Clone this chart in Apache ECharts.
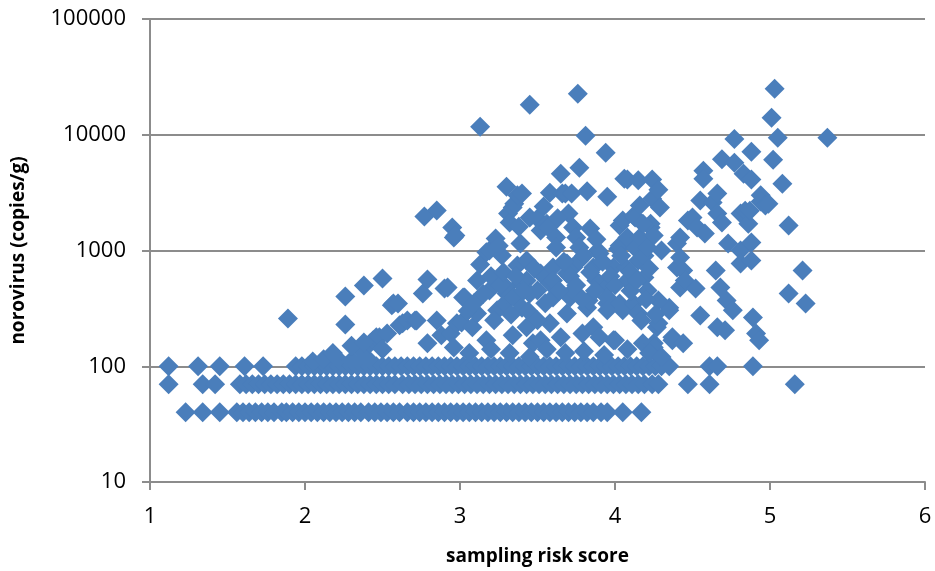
<!DOCTYPE html>
<html>
<head>
    <meta charset="utf-8">
    <title>norovirus vs sampling risk score</title>
    <script src="https://cdn.jsdelivr.net/npm/echarts@6/dist/echarts.min.js"></script>
    <style>
        html, body { margin: 0; padding: 0; background: #fff; }
        #chart { width: 935px; height: 571px; }
    </style>
</head>
<body>
<div id="chart"></div>
<script>
    // 坐标轴刻度
    var xTicks = [1, 2, 3, 4, 5, 6];
    var yTicks = [10, 100, 1000, 10000, 100000];

    // 底部三行（检测下限附近的值）
    var row40X = [1.23, 1.34, 1.45, 1.56, 1.60, 1.64, 1.68, 1.72, 1.76, 1.80, 1.85, 1.88, 1.92, 1.96,
        2.00, 2.04, 2.08, 2.12, 2.16, 2.20, 2.24, 2.28, 2.32, 2.36, 2.41, 2.45, 2.49, 2.53, 2.57,
        2.61, 2.66, 2.70, 2.74, 2.78, 2.82, 2.86, 2.90, 2.94, 2.98, 3.02, 3.06, 3.10, 3.14, 3.18,
        3.22, 3.26, 3.30, 3.34, 3.38, 3.42, 3.46, 3.50, 3.54, 3.58, 3.62, 3.66, 3.70, 3.74, 3.78,
        3.82, 3.86, 3.91, 3.95, 4.05, 4.17];
    var row70X = [1.12, 1.34, 1.42, 1.58, 1.62, 1.66, 1.70, 1.74, 1.78, 1.82, 1.86, 1.90, 1.94, 1.98,
        2.02, 2.06, 2.10, 2.14, 2.18, 2.22, 2.26, 2.30, 2.34, 2.38, 2.42, 2.46, 2.50, 2.54, 2.58,
        2.63, 2.67, 2.71, 2.75, 2.79, 2.83, 2.87, 2.91, 2.95, 2.99, 3.03, 3.07, 3.11, 3.15, 3.19,
        3.23, 3.27, 3.31, 3.35, 3.39, 3.43, 3.47, 3.51, 3.55, 3.59, 3.63, 3.67, 3.71, 3.75, 3.79,
        3.83, 3.87, 3.91, 3.95, 3.99, 4.03, 4.07, 4.11, 4.15, 4.19, 4.24, 4.28, 4.47, 4.61, 5.16];
    var row100X = [1.12, 1.31, 1.45, 1.61, 1.73, 1.94, 1.98, 2.02, 2.06, 2.10, 2.14, 2.18, 2.22, 2.26,
        2.30, 2.34, 2.38, 2.42, 2.46, 2.50, 2.54, 2.58, 2.62, 2.66, 2.70, 2.74, 2.78, 2.82, 2.86,
        2.90, 2.94, 2.98, 3.02, 3.06, 3.10, 3.14, 3.18, 3.22, 3.26, 3.30, 3.34, 3.38, 3.42, 3.46,
        3.50, 3.54, 3.58, 3.62, 3.66, 3.70, 3.74, 3.78, 3.82, 3.86, 3.90, 3.94, 3.98, 4.02, 4.06,
        4.10, 4.14, 4.18, 4.22, 4.26, 4.30, 4.35, 4.61, 4.66, 4.89];

    // 其余散点
    var scatterX = [1.89, 2.05, 2.12, 2.18, 2.20, 2.26, 2.26, 2.30, 2.35, 2.36, 2.38, 2.40, 2.42, 2.44,
        2.46, 2.48, 2.50, 2.53, 2.56, 2.57, 2.60, 2.61, 2.63, 2.66, 2.71, 2.72, 2.76, 2.77, 2.79,
        2.79, 2.85, 2.85, 2.88, 2.90, 2.92, 2.94, 2.95, 2.96, 2.96, 2.97, 2.98, 3.01, 3.02, 3.03,
        3.08, 3.11, 3.11, 3.13, 3.13, 3.17, 3.17, 3.19, 3.19, 3.23, 3.24, 3.27, 3.29, 3.30, 3.30,
        3.30, 3.31, 3.32, 3.34, 3.34, 3.35, 3.35, 3.37, 3.37, 3.39, 3.39, 3.40, 3.40, 3.43, 3.43,
        3.43, 3.45, 3.45, 3.47, 3.50, 3.50, 3.52, 3.52, 3.52, 3.56, 3.57, 3.58, 3.58, 3.58, 3.60,
        3.60, 3.62, 3.62, 3.65, 3.65, 3.66, 3.68, 3.69, 3.69, 3.69, 3.70, 3.71, 3.72, 3.73, 3.73,
        3.73, 3.75, 3.76, 3.77, 3.77, 3.77, 3.79, 3.81, 3.82, 3.82, 3.83, 3.84, 3.86, 3.86, 3.88,
        3.89, 3.90, 3.90, 3.94, 3.95, 3.95, 3.95, 3.95, 3.95, 3.99, 3.99, 4.00, 4.02, 4.03, 4.03,
        4.03, 4.05, 4.05, 4.06, 4.07, 4.08, 4.08, 4.08, 4.12, 4.12, 4.13, 4.13, 4.15, 4.15, 4.15,
        4.16, 4.16, 4.17, 4.18, 4.19, 4.19, 4.21, 4.21, 4.23, 4.23, 4.24, 4.24, 4.25, 4.25, 4.25,
        4.27, 4.28, 4.28, 4.28, 4.29, 4.30, 4.35, 4.35, 4.37, 4.37, 4.40, 4.40, 4.42, 4.42, 4.42,
        4.44, 4.44, 4.45, 4.47, 4.50, 4.52, 4.53, 4.55, 4.55, 4.57, 4.57, 4.58, 4.63, 4.65, 4.66,
        4.66, 4.66, 4.68, 4.69, 4.69, 4.71, 4.72, 4.73, 4.76, 4.77, 4.77, 4.81, 4.81, 4.81, 4.83,
        4.84, 4.86, 4.87, 4.88, 4.88, 4.88, 4.88, 4.89, 4.91, 4.93, 4.94, 4.94, 4.97, 4.99, 5.01,
        5.02, 5.03, 5.05, 5.08, 5.12, 5.12, 5.21, 5.23, 5.37, 3.45];
    var scatterY = [259, 110, 115, 130, 120, 401, 230, 112, 143, 137, 499, 118, 158, 168,
        178, 178, 574, 192, 336, 349, 349, 226, 235, 249, 249, 249, 426, 1963, 562,
        158, 2213, 249, 185, 470, 480, 192, 1578, 1295, 145, 1347, 235, 239, 393, 393,
        217, 551, 286, 11720, 757, 168, 964, 1000, 452, 1270, 304, 905, 349, 3560, 426,
        480, 2084, 1743, 2350, 185, 2540, 393, 742, 3000, 1150, 520, 3100, 320, 820, 551,
        217, 1925, 426, 158, 1890, 452, 1487, 634, 168, 1700, 1578, 3150, 520, 235, 393,
        713, 1295, 1060, 4610, 178, 3100, 3100, 634, 773, 286, 2084, 393, 3100, 1578, 452,
        713, 1295, 22560, 5195, 820, 1060, 192, 9800, 3250, 320, 370, 1550, 217, 713, 551,
        1000, 943, 178, 6990, 2920, 480, 349, 393, 304, 713, 168, 168, 1030, 1643, 349,
        1100, 1815, 304, 4175, 713, 4100, 1295, 551, 2000, 349, 1925, 1050, 4050, 820, 286,
        2450, 1295, 249, 158, 585, 900, 1060, 452, 1578, 1700, 4100, 2800, 158, 1350, 145,
        217, 3350, 370, 235, 2350, 1000, 320, 304, 178, 168, 1150, 713, 1295, 870, 480,
        672, 158, 551, 1815, 1925, 470, 1578, 2700, 274, 4890, 4175, 1400, 2595, 672, 217,
        2084, 3100, 480, 1743, 6150, 205, 370, 1150, 304, 9200, 5740, 2084, 1000, 773, 4610,
        2200, 1700, 2200, 7130, 4100, 1170, 820, 264, 192, 168, 3000, 2650, 2450, 2540, 14020,
        6090, 24940, 9420, 3780, 1643, 426, 672, 349, 9420, 18150];

    // 云团内部补充点（密集区）
    var cloudX = [3.05, 3.09, 3.15, 3.20, 3.22, 3.26, 3.28, 3.33, 3.36, 3.41, 3.44, 3.48, 3.50, 3.55,
        3.60, 3.64, 3.67, 3.71, 3.75, 3.79, 3.80, 3.84, 3.87, 3.92, 3.97, 4.00, 4.04, 4.10, 4.10,
        4.14, 4.20, 4.22, 4.26, 3.06, 3.20, 3.32, 3.45, 3.56, 3.68, 3.80, 3.93, 4.08, 4.22, 4.30,
        3.25, 3.38, 3.54, 3.63, 3.88, 4.18, 2.30, 2.38, 2.50];
    var cloudY = [300, 350, 420, 600, 250, 500, 650, 280, 600, 450, 300, 700, 250, 350,
        550, 450, 800, 600, 500, 380, 900, 650, 450, 800, 600, 500, 900, 450, 650,
        550, 380, 700, 280, 130, 140, 130, 120, 140, 130, 135, 125, 140, 130, 120,
        1100, 1600, 2400, 1900, 1250, 1700, 150, 160, 140];

    var seriesData = [];
    var i;
    for (i = 0; i < row40X.length; i++) seriesData.push([row40X[i], 40]);
    for (i = 0; i < row70X.length; i++) seriesData.push([row70X[i], 70]);
    for (i = 0; i < row100X.length; i++) seriesData.push([row100X[i], 100]);
    for (i = 0; i < scatterX.length; i++) seriesData.push([scatterX[i], scatterY[i]]);
    for (i = 0; i < cloudX.length; i++) seriesData.push([cloudX[i], cloudY[i]]);

    var lineColor = '#8c8c8c';
    var fontName = 'Open Sans';

    var myChart = echarts.init(document.getElementById('chart'));
    var option = {
        animation: false,
        grid: {left: 150, right: 10, top: 19, bottom: 89, containLabel: false},
        xAxis: {
            type: 'value',
            min: xTicks[0],
            max: xTicks[xTicks.length - 1],
            interval: 1,
            name: 'sampling risk score',
            nameLocation: 'middle',
            nameGap: 65,
            nameTextStyle: {fontFamily: fontName, fontSize: 19, fontWeight: 'bold', color: '#000'},
            axisLine: {show: true, lineStyle: {color: lineColor, width: 2}},
            axisTick: {show: true, length: 8, lineStyle: {color: lineColor, width: 2}},
            axisLabel: {margin: 24, fontFamily: fontName, fontSize: 22, color: '#000'},
            splitLine: {show: false}
        },
        yAxis: {
            type: 'log',
            logBase: 10,
            min: yTicks[0],
            max: yTicks[yTicks.length - 1],
            name: 'norovirus (copies/g)',
            nameLocation: 'middle',
            nameGap: 122,
            nameRotate: 90,
            nameTextStyle: {fontFamily: fontName, fontSize: 19, fontWeight: 'bold', color: '#000'},
            axisLine: {show: true, lineStyle: {color: lineColor, width: 2}},
            axisTick: {show: true, length: 8, lineStyle: {color: lineColor, width: 2}},
            axisLabel: {
                margin: 24, fontFamily: fontName, fontSize: 22, color: '#000',
                formatter: function (v) { return String(Math.round(v)); }
            },
            splitLine: {show: true, lineStyle: {color: lineColor, width: 2}},
            minorTick: {show: false}
        },
        series: [{
            type: 'scatter',
            symbol: 'diamond',
            symbolSize: 20,
            data: seriesData,
            itemStyle: {color: '#4a7ebb', opacity: 1}
        }]
    };
    myChart.setOption(option);
</script>
</body>
</html>
